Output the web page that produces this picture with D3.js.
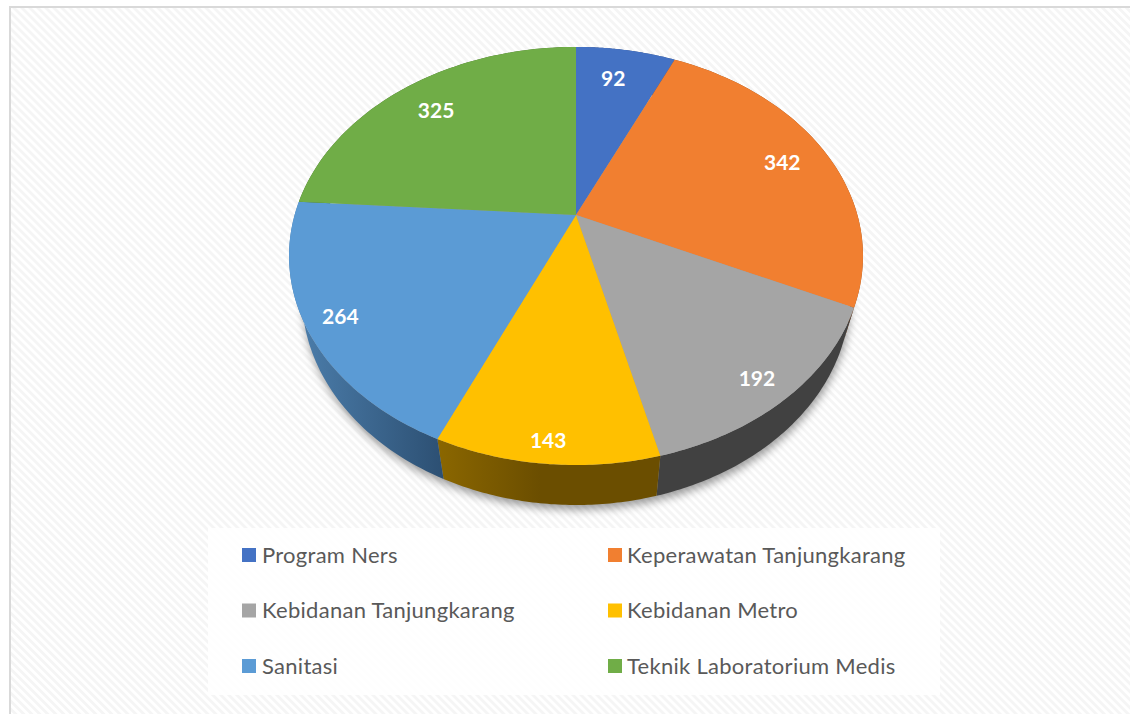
<!DOCTYPE html>
<html>
<head>
<meta charset="utf-8">
<script src="https://cdnjs.cloudflare.com/ajax/libs/d3/7.8.5/d3.min.js"></script>
<style>
html, body { margin: 0; padding: 0; background: #fff; overflow: hidden; }
text { font-family: Lato, "Open Sans", sans-serif; }
</style>
</head>
<body>
<script>
var categories = ['Program Ners', 'Keperawatan Tanjungkarang', 'Kebidanan Tanjungkarang', 'Kebidanan Metro', 'Sanitasi', 'Teknik Laboratorium Medis'];
var values = [92, 342, 192, 143, 264, 325];
var colors = ['#4472c4', '#f17f30', '#a5a5a5', '#ffc000', '#5b9bd5', '#70ad47'];

var width = 1130, height = 714;
var cx = 576, cy = 215;
var radX = 281.4, radY = 201, tilt = 0.196;
var depth = 40, shrink = 0.955;

var svg = d3.select('body').append('svg').attr('width', width).attr('height', height).style('display', 'block');
var defs = svg.append('defs');

var stripes = defs.append('pattern').attr('id', 'stripes').attr('patternUnits', 'userSpaceOnUse')
  .attr('width', 5.66).attr('height', 5.66).attr('patternTransform', 'rotate(45)');
stripes.append('rect').attr('width', 5.66).attr('height', 5.66).attr('fill', '#fff');
stripes.append('rect').attr('width', 5.66).attr('height', 2.83).attr('fill', '#f5f5f5');

var blur = defs.append('filter').attr('id', 'shadow').attr('x', '-10%').attr('y', '-10%').attr('width', '120%').attr('height', '120%');
blur.append('feGaussianBlur').attr('stdDeviation', 4);

var wallBlue = defs.append('linearGradient').attr('id', 'wall4').attr('gradientUnits', 'userSpaceOnUse')
  .attr('x1', 305).attr('x2', 445).attr('y1', 0).attr('y2', 0);
wallBlue.append('stop').attr('offset', 0).attr('stop-color', '#4a7ba8');
wallBlue.append('stop').attr('offset', 1).attr('stop-color', '#2c4f72');
var wallYellow = defs.append('linearGradient').attr('id', 'wall3').attr('gradientUnits', 'userSpaceOnUse')
  .attr('x1', 440).attr('x2', 540).attr('y1', 0).attr('y2', 0);
wallYellow.append('stop').attr('offset', 0).attr('stop-color', '#8a6600');
wallYellow.append('stop').attr('offset', 1).attr('stop-color', '#6b4e00');
var wallFill = ['#2f4a80', '#8f4c1d', '#414141', 'url(#wall3)', 'url(#wall4)', '#44692a'];

// chart frame
svg.append('rect').attr('x', 10).attr('y', 7).attr('width', 1130).attr('height', 720)
  .attr('fill', 'url(#stripes)').attr('stroke', '#d9d9d9').attr('stroke-width', 2);

var pie = d3.pie().sort(null)(values);
var line = d3.line();

// perspective: circle angle -> screen point on the top face
function project(a, lower) {
  var u = Math.sin(a), v = -Math.cos(a), w = 1 - tilt * v;
  var x = radX * u / w, y = radY * v / w;
  return lower ? [cx + x * shrink, cy + y + depth] : [cx + x, cy + y];
}

function rim(d, lower) {
  return d3.range(0, 61).map(function (i) {
    return project(d.startAngle + (d.endAngle - d.startAngle) * i / 60, lower);
  });
}

// soft shadow under the pie
svg.append('path')
  .attr('d', line(rim({ startAngle: 0, endAngle: 2 * Math.PI }, true)) + 'Z')
  .attr('transform', 'translate(1,5)')
  .attr('fill', '#000').attr('fill-opacity', 0.38).attr('filter', 'url(#shadow)');

svg.append('g').selectAll('path').data(pie).enter().append('path')
  .attr('d', function (d) { return line(rim(d, false).concat(rim(d, true).reverse())) + 'Z'; })
  .attr('fill', function (d, i) { return wallFill[i]; });

svg.append('g').selectAll('path').data(pie).enter().append('path')
  .attr('d', function (d) { return line([[cx, cy]].concat(rim(d, false))) + 'Z'; })
  .attr('fill', function (d, i) { return colors[i]; });

// labels: 80% along the mid angle, then moved by hand like the original
var labelNudge = [[-4, 0], [6, 1], [18, 22], [-5, 36], [-26, 11], [-2, 1]];

function labelPos(d, i) {
  var a = (d.startAngle + d.endAngle) / 2;
  var u = Math.sin(a) * 0.8, v = -Math.cos(a) * 0.8, w = 1 - tilt * v;
  return [cx + radX * u / w + labelNudge[i][0], cy + radY * v / w + labelNudge[i][1]];
}

svg.append('g').selectAll('text').data(pie).enter().append('text')
  .attr('x', function (d, i) { return labelPos(d, i)[0]; })
  .attr('y', function (d, i) { return labelPos(d, i)[1]; })
  .attr('text-anchor', 'middle').attr('dy', '0.35em')
  .attr('fill', '#fff').attr('font-size', 21).attr('font-weight', 700)
  .text(function (d) { return d.value; });

// legend
svg.append('rect').attr('x', 208).attr('y', 528).attr('width', 732).attr('height', 167).attr('fill', '#fff').attr('fill-opacity', 0.85);
var legendX = d3.scaleOrdinal().domain([0, 1]).range([242, 608]);
var legendY = d3.scalePoint().domain([0, 1, 2]).range([555, 666]);
var legend = svg.append('g').selectAll('g').data(categories).enter().append('g')
  .attr('transform', function (d, i) { return 'translate(' + legendX(i % 2) + ',' + legendY(Math.floor(i / 2)) + ')'; });
legend.append('rect').attr('x', 0).attr('y', -7).attr('width', 14).attr('height', 14)
  .attr('fill', function (d, i) { return colors[i]; });
legend.append('text').attr('x', function (d, i) { return i % 2 ? 19 : 20; }).attr('dy', '0.35em').attr('fill', '#595959')
  .attr('font-size', 22).attr('letter-spacing', 0.28).text(function (d) { return d; });
</script>
</body>
</html>
